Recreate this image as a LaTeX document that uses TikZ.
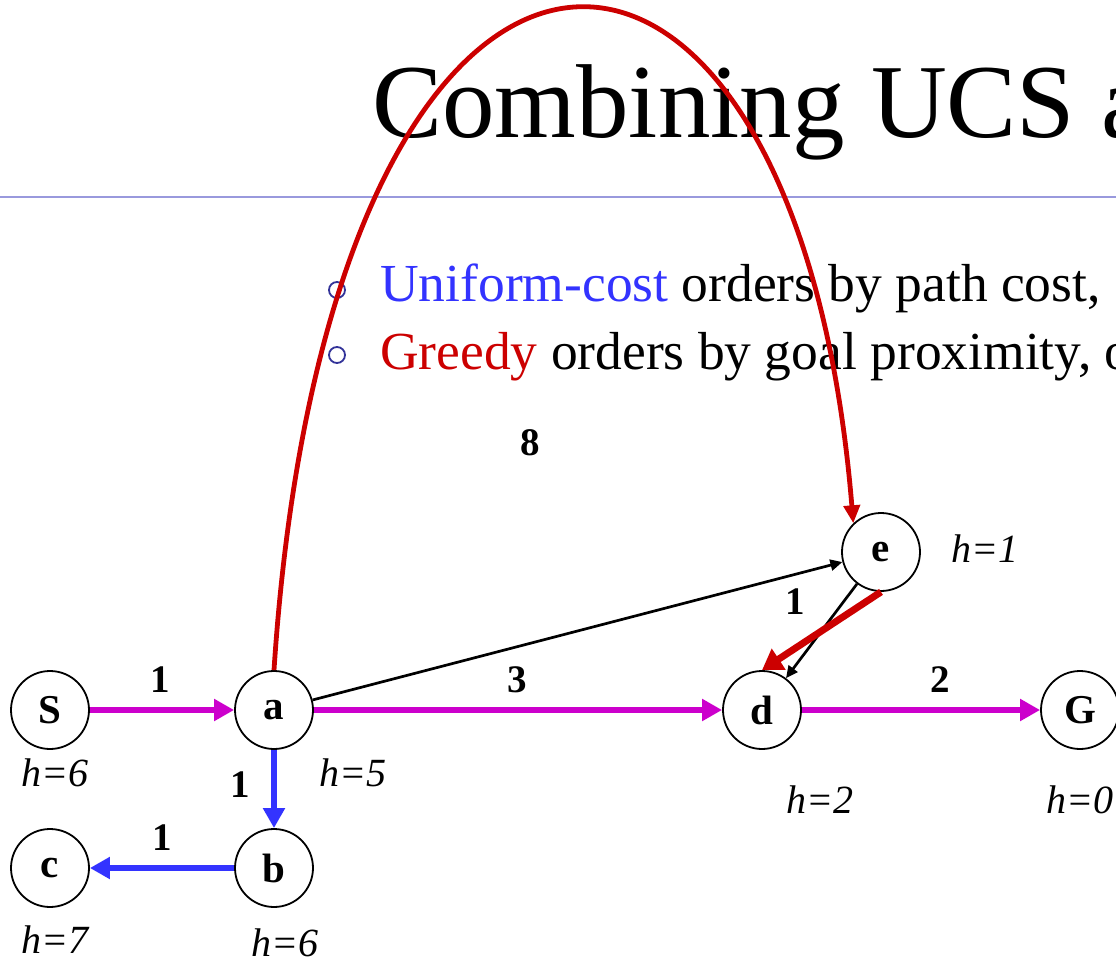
\documentclass[tikz,border=0pt]{standalone}
\usepackage{fontspec}
\setmainfont{Liberation Serif}
\usetikzlibrary{arrows.meta}
\definecolor{magc}{RGB}{204,0,204}
\definecolor{bluc}{RGB}{51,51,255}
\definecolor{redc}{RGB}{204,0,0}
\definecolor{rulec}{RGB}{153,153,221}
\definecolor{bulc}{RGB}{51,51,153}
\begin{document}
\begin{tikzpicture}[x=1pt,y=-1pt,
  state/.style={circle,draw,line width=1.8pt,fill=white,minimum size=78pt,inner sep=0pt,font=\fontsize{41}{41}\selectfont\bfseries},
  cost/.style={font=\fontsize{39}{39}\selectfont\bfseries,inner sep=0pt},
  heur/.style={font=\fontsize{40}{40}\selectfont\itshape,inner sep=0pt},
  magarrow/.style={draw=magc,line width=6pt,-{Triangle[length=20pt,width=21pt]}},
  bluarrow/.style={draw=bluc,line width=6pt,-{Triangle[length=20pt,width=21pt]}},
  thinarrow/.style={draw=black,line width=2.7pt,-{Triangle[length=12pt,width=11pt]}},
  redthick/.style={draw=redc,line width=7pt,-{Triangle[length=20pt,width=24pt]}},
  redarc/.style={draw=redc,line width=4.8pt,-{Triangle[length=18pt,width=16pt]}},
  bullet/.style={circle,draw=bulc,line width=1.8pt,minimum size=16pt,inner sep=0pt},
  bodytext/.style={anchor=base west,inner sep=0pt,font=\fontsize{53.5}{53.5}\selectfont}
]
\useasboundingbox (0,0) rectangle (1116,965);
\clip (0,0) rectangle (1116,965);
\fill[white] (0,0) rectangle (1116,965);

% title and rule
\node[anchor=base west,inner sep=0pt,font=\fontsize{105}{105}\selectfont] (title) at (372,138) {Combining UCS a};
\draw[rulec,line width=2.2pt] (0,197) -- (1116,197);

% bullets
\node[bullet] (b1) at (337,290) {};
\node[bullet] (b2) at (337,355) {};
\node[bodytext] (t1) at (380,302) {{\color{bluc}Uniform-cost} orders by path cost,};
\node[bodytext] (t2) at (380,370) {{\color{redc}Greedy} orders by goal proximity, or};

% nodes
\node[state] (S) at (50,710) {S};
\node[state] (a) at (274,710) {a};
\node[state] (b) at (274,868) {b};
\node[state] (c) at (50,868) {c};
\node[state] (d) at (762,710) {d};
\node[state] (e) at (881,552) {e};
\node[state] (G) at (1080,710) {G};

% edges
\draw[magarrow] (S) -- (a);
\draw[magarrow] (a) -- (d);
\draw[magarrow] (d) -- (G);
\draw[bluarrow] (a) -- (b);
\draw[bluarrow] (b) -- (c);
\draw[thinarrow] (a) -- (e);
\draw[thinarrow] (e) -- (d);
\draw[redthick] (e.south) -- (d.north);
\draw[redarc] (a.north) .. controls (330,-185) and (795,-185) .. (e.134);

% labels
\node[cost] (l1) at (160,680) {1};
\node[cost] (l2) at (240,785) {1};
\node[cost] (l3) at (162,838) {1};
\node[cost] (l4) at (517,680) {3};
\node[cost] (l5) at (530,443) {8};
\node[cost] (l6) at (795,602) {1};
\node[cost] (l7) at (940,680) {2};
\node[heur] (hS) at (55,773) {h=6};
\node[heur] (ha) at (353,773) {h=5};
\node[heur] (hc) at (55,940) {h=7};
\node[heur] (hb) at (285,943) {h=6};
\node[heur] (he) at (985,549) {h=1};
\node[heur] (hd) at (820,800) {h=2};
\node[heur] (hG) at (1080,800) {h=0};
\end{tikzpicture}
\end{document}
